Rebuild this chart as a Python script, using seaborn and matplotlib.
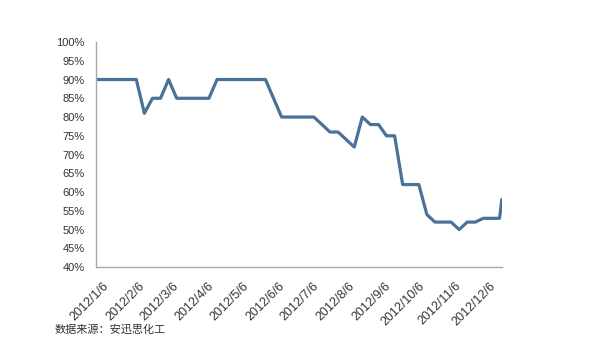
import pandas as pd
import matplotlib
matplotlib.use('Agg')
import matplotlib.pyplot as plt
import matplotlib.transforms as mtransforms
import seaborn as sns

# weekly values (Fridays from 2012/1/6), plus one final reading
weekly = [90, 90, 90, 90, 90, 90, 81, 85, 85, 90,
          85, 85, 85, 85, 85, 90, 90, 90, 90, 90,
          90, 90, 85, 80, 80, 80, 80, 80, 78, 76,
          76, 74, 72, 80, 78, 78, 75, 75, 62, 62,
          62, 54, 52, 52, 52, 50, 52, 52, 53, 53,
          53]
last_date = '2012-12-23'
last_value = 58

dates = list(pd.date_range('2012-01-06', periods=len(weekly), freq='7D')) + [pd.Timestamp(last_date)]
values = weekly + [last_value]
df = pd.DataFrame({'date': dates, 'rate': values})

tick_dates = pd.date_range('2012-01-06', periods=12, freq=pd.DateOffset(months=1))
tick_labels = [f'{d.year}/{d.month}/{d.day}' for d in tick_dates]
y_ticks = list(range(40, 101, 5))

sns.set_style('white')
plt.rcParams['font.family'] = ['Liberation Sans', 'Noto Sans CJK SC', 'DejaVu Sans']

fig = plt.figure(figsize=(5.96, 3.59), dpi=100)
ax = fig.add_axes([0.161, 0.256, 0.681, 0.627])

sns.lineplot(data=df, x='date', y='rate', color='#4a7298', linewidth=2.3, ax=ax)

ax.set_ylim(40, 100)
ax.set_yticks(y_ticks)
ax.set_yticklabels([f'{v}%' for v in y_ticks], fontsize=8, color='#333333')
ax.set_xlim(pd.Timestamp('2012-01-06'), pd.Timestamp(last_date))
ax.set_xticks(tick_dates)
ax.set_xticklabels(tick_labels, rotation=45, ha='right', rotation_mode='anchor',
                   fontsize=9, color='#333333')
ax.tick_params(axis='y', length=0, pad=8)
ax.tick_params(axis='x', length=0, pad=9)
ax.set_xlabel('')
ax.set_ylabel('')

# nudge the slanted date labels a little to the right
shift = mtransforms.ScaledTranslation(7 / 100, 0, fig.dpi_scale_trans)
for lab in ax.get_xticklabels():
    lab.set_transform(lab.get_transform() + shift)

for side in ['top', 'right']:
    ax.spines[side].set_visible(False)
for side in ['left', 'bottom']:
    ax.spines[side].set_color('#a6a6a6')
    ax.spines[side].set_linewidth(1)

fig.text(0.092, 0.081, '数据来源：安迅思化工', fontsize=8, color='#333333',
         style='italic', va='center', family=['Noto Sans CJK SC', 'DejaVu Sans'])

fig.savefig('out.png', dpi=100)
